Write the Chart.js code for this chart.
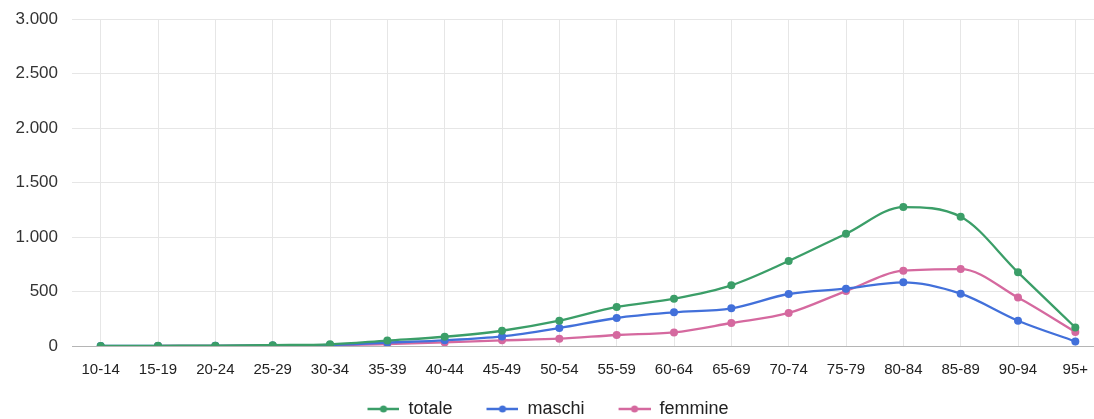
<!DOCTYPE html>
<html>
<head>
<meta charset="utf-8">
<script src="https://cdn.jsdelivr.net/npm/chart.js@4"></script>
<style>
    html, body { margin: 0; padding: 0; background: #fff; overflow: hidden; }
    #wrap { width: 1108px; height: 419px; }
</style>
</head>
<body>
<div id="wrap"><canvas id="ageChart"></canvas></div>
<script>
let ageGroups = ["10-14", "15-19", "20-24", "25-29", "30-34", "35-39", "40-44", "45-49", "50-54",
    "55-59", "60-64", "65-69", "70-74", "75-79", "80-84", "85-89", "90-94", "95+"];
let totale  = [1, 2, 3, 8, 15, 50, 85, 140, 232, 358, 434, 557, 780, 1030, 1275, 1186, 676, 170];
let maschi  = [1, 1, 2, 5, 9, 32, 52, 88, 165, 257, 309, 346, 477, 526, 584, 480, 232, 42];
let femmine = [null, 1, 1, 3, 6, 18, 33, 52, 67, 101, 125, 211, 303, 504, 691, 706, 444, 128];
let yTicks = [0, 500, 1000, 1500, 2000, 2500, 3000];

let colors = { totale: "#3b9e68", maschi: "#4270da", femmine: "#d5699f" };

// legend symbol: transparent gap on the left, then a line with a dot
function legendIcon(color) {
    let c = document.createElement("canvas");
    c.width = 60;
    c.height = 10;
    let g = c.getContext("2d");
    g.strokeStyle = color;
    g.lineWidth = 2.5;
    g.beginPath();
    g.moveTo(28, 5);
    g.lineTo(60, 5);
    g.stroke();
    g.fillStyle = color;
    g.beginPath();
    g.arc(44, 5, 3.5, 0, Math.PI * 2);
    g.fill();
    return c;
}

function itNumber(v) {
    return String(v).replace(/\B(?=(\d{3})+(?!\d))/g, ".");
}

function makeSet(label, data, color) {
    return {
        label: label,
        data: data,
        borderColor: color,
        backgroundColor: color,
        borderWidth: 2.3,
        pointRadius: 4,
        pointBorderWidth: 0,
        pointHoverRadius: 4,
        cubicInterpolationMode: "monotone"
    };
}

// the legend sits a bit left of the canvas centre
const legendShift = {
    id: "legendShift",
    afterLayout(chart) {
        chart.legend.left -= 20;
        chart.legend.right -= 20;
    }
};

let ctx = document.getElementById("ageChart").getContext("2d");

new Chart(ctx, {
    type: "line",
    data: {
        labels: ageGroups,
        datasets: [
            makeSet("totale", totale, colors.totale),
            makeSet("maschi", maschi, colors.maschi),
            makeSet("femmine", femmine, colors.femmine)
        ]
    },
    plugins: [legendShift],
    options: {
        responsive: true,
        maintainAspectRatio: false,
        animation: false,
        layout: { padding: { top: 0, right: 0, bottom: -9, left: 0 } },
        plugins: {
            tooltip: { enabled: false },
            legend: {
                position: "bottom",
                labels: {
                    usePointStyle: true,
                    pointStyleWidth: 60,
                    boxHeight: 10,
                    padding: 6,
                    color: "#222",
                    font: { family: "Arial, 'Liberation Sans'", size: 18 },
                    generateLabels: chart => chart.data.datasets.map((ds, i) => ({
                        text: ds.label,
                        pointStyle: legendIcon(ds.borderColor),
                        fillStyle: ds.borderColor,
                        strokeStyle: ds.borderColor,
                        lineWidth: 0,
                        datasetIndex: i,
                        hidden: false,
                        fontColor: "#222"
                    }))
                }
            }
        },
        scales: {
            x: {
                offset: true,
                grid: { offset: false, color: "#e6e6e6", drawTicks: false },
                border: { display: false },
                ticks: {
                    color: "#222",
                    padding: 15,
                    maxRotation: 0,
                    autoSkip: false,
                    font: { family: "Arial, 'Liberation Sans'", size: 15 }
                }
            },
            y: {
                min: 0,
                max: 3000,
                afterFit: axis => {
                    axis.width = 72;
                    axis.paddingTop = 19;
                },
                afterBuildTicks: axis => { axis.ticks = yTicks.map(v => ({ value: v })); },
                grid: {
                    color: c => (c.tick && c.tick.value === 0 ? "#b5b5b5" : "#e6e6e6"),
                    drawTicks: false
                },
                border: { display: false },
                ticks: {
                    color: "#333",
                    padding: 14,
                    font: { family: "Arial, 'Liberation Sans'", size: 17 },
                    callback: v => itNumber(v)
                }
            }
        }
    }
});
</script>
</body>
</html>
